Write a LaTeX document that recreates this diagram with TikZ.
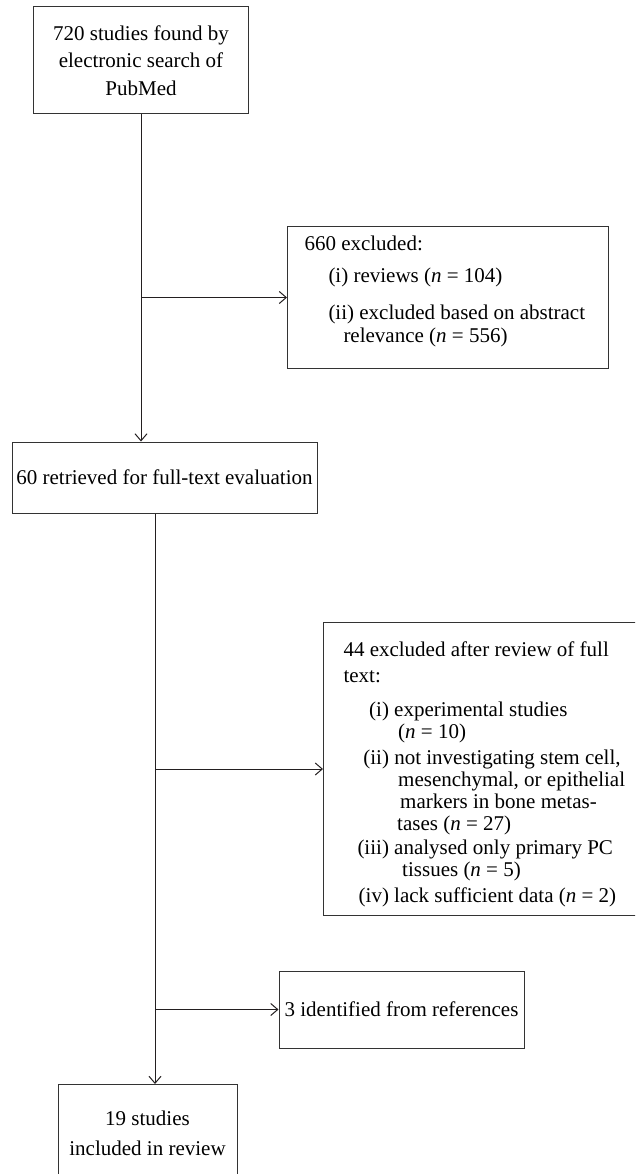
\documentclass[tikz,border=0pt]{standalone}
\usepackage{fontspec}
\setmainfont{Liberation Serif}
\usetikzlibrary{arrows.meta}
\definecolor{BoxGray}{RGB}{51, 51, 51}
\definecolor{LineBlack}{RGB}{35, 31, 32}

\begin{document}
\begin{tikzpicture}[
    x=1pt, y=1pt,
    font=\fontsize{21}{22}\selectfont,
    flowbox/.style={rectangle, draw=BoxGray, line width=1pt, align=center, inner sep=0pt},
    notebox/.style={rectangle, draw=BoxGray, line width=1pt, anchor=north west, inner ysep=0pt},
    arrow/.style={-{Straight Barb[length=7pt, width=12pt]}, line width=1pt, LineBlack}
  ]
    \useasboundingbox (0,0) rectangle (635,-1174);
    \clip (0,0) rectangle (635,-1174);

    \node[flowbox, minimum width=215pt, minimum height=107pt] (search) at (141,-60.5)
      {720 studies found by\\[5.5pt] electronic search of\\[5.5pt] PubMed};
    \node[notebox, inner xsep=17pt, text height=24pt, text depth=118pt] (excl1) at (287,-226)
      {\begin{tabular}[t]{@{}p{287pt}@{}}
        660 excluded:\\[10pt]
        \hspace*{24pt}(i) reviews (\textit{n} = 104)\\[15pt]
        \hspace*{24pt}(ii) excluded based on abstract\\[1pt]
        \hspace*{39pt}relevance (\textit{n} = 556)
      \end{tabular}};
    \node[flowbox, minimum width=305pt, minimum height=71pt] (retrieved) at (164.5,-477.5)
      {60 retrieved for full-text evaluation};
    \node[notebox, inner xsep=20pt, text height=34pt, text depth=259pt] (excl2) at (323,-622)
      {\begin{tabular}[t]{@{\hspace{14pt}}r@{\ }p{300pt}@{}}
        \multicolumn{2}{@{}l@{}}{44 excluded after review of full}\\[4pt]
        \multicolumn{2}{@{}l@{}}{text:}\\[12pt]
        (i) & experimental studies\\
            & \hspace*{4pt}(\textit{n} = 10)\\[4pt]
        (ii) & not investigating stem cell,\\
             & \hspace*{4pt}mesenchymal, or epithelial\\
             & \hspace*{6pt}markers in bone metas-\\
             & \hspace*{3pt}tases (\textit{n} = 27)\\[2pt]
        (iii) & analysed only primary PC\\
              & \hspace*{8pt}tissues (\textit{n} = 5)\\[4pt]
        (iv) & lack sufficient data (\textit{n} = 2)
      \end{tabular}};
    \node[flowbox, minimum width=245pt, minimum height=77pt] (refs) at (401.5,-1009.5)
      {3 identified from references};
    \node[flowbox, minimum width=179pt, minimum height=98pt, anchor=north] (included) at (147.5,-1084)
      {19 studies\\[8pt] included in review};

    % main line and side branches
    \draw[arrow] (search.south) -- (search.south |- retrieved.north);
    \draw[arrow] (search.south |- excl1.west) -- (excl1.west);
    \coordinate (split) at ([xshift=-9.5pt]retrieved.south);
    \draw[arrow] (split) -- (split |- included.north);
    \draw[arrow] (split |- excl2.west) -- (excl2.west);
    \draw[arrow] (split |- refs.west) -- (refs.west);
  \end{tikzpicture}
\end{document}
